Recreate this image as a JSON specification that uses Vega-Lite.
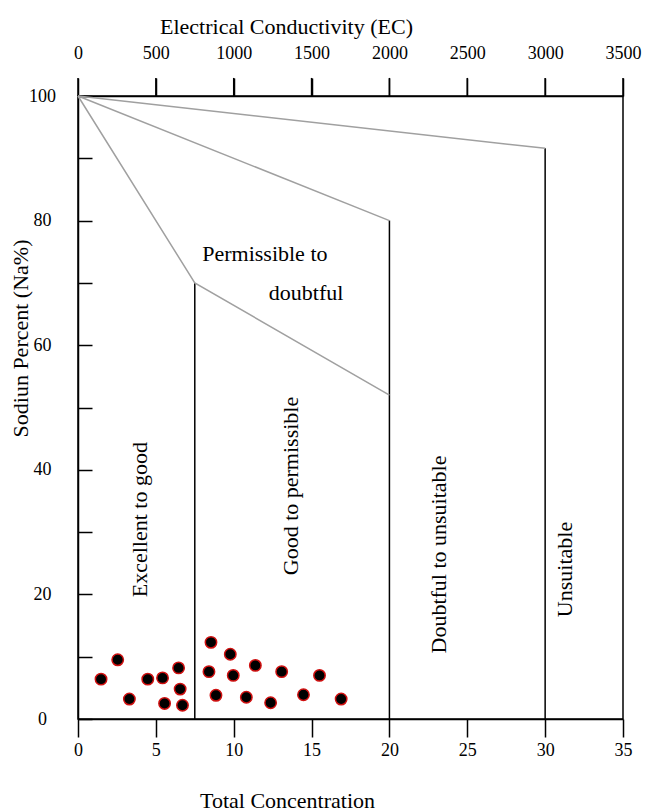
{
  "$schema": "https://vega.github.io/schema/vega-lite/v6.json",
  "width": 545,
  "height": 623,
  "autosize": "none",
  "padding": {"left": 78, "top": 96, "right": 33, "bottom": 93},
  "background": "white",
  "config": {
    "view": {"stroke": "black", "strokeWidth": 1.5},
    "font": "Liberation Serif",
    "axis": {
      "domainColor": "black", "domainWidth": 1.5, "tickColor": "black", "tickWidth": 1.5,
      "labelFont": "Liberation Serif", "titleFont": "Liberation Serif", "labelColor": "black", "titleColor": "black",
      "labelFontSize": 18, "titleFontSize": 22, "titleFontWeight": "normal", "grid": false, "labelFlush": false
    }
  },
  "datasets": {
    "bounds": [
      {"seg": "A", "tc": 0, "na": 100}, {"seg": "A", "tc": 30, "na": 91.6},
      {"seg": "B", "tc": 0, "na": 100}, {"seg": "B", "tc": 20, "na": 80},
      {"seg": "C", "tc": 0, "na": 100}, {"seg": "C", "tc": 7.5, "na": 70}, {"seg": "C", "tc": 20, "na": 52}
    ],
    "verticals": [
      {"tc": 7.5, "na0": 0, "na1": 70},
      {"tc": 20, "na0": 0, "na1": 80},
      {"tc": 30, "na0": 0, "na1": 91.6}
    ],
    "ecticks": [
      {"tc": 0, "na0": 100, "na1": 102.9}, {"tc": 5, "na0": 100, "na1": 102.9},
      {"tc": 10, "na0": 100, "na1": 102.9}, {"tc": 15, "na0": 100, "na1": 102.9},
      {"tc": 20, "na0": 100, "na1": 102.9}, {"tc": 25, "na0": 100, "na1": 102.9},
      {"tc": 30, "na0": 100, "na1": 102.9}, {"tc": 35, "na0": 100, "na1": 102.9}
    ],
    "samples": [
      {"tc": 1.48, "na": 6.4}, {"tc": 2.55, "na": 9.5}, {"tc": 3.3, "na": 3.2}, {"tc": 4.48, "na": 6.4},
      {"tc": 5.43, "na": 6.6}, {"tc": 5.56, "na": 2.5}, {"tc": 6.46, "na": 8.2}, {"tc": 6.56, "na": 4.8},
      {"tc": 6.71, "na": 2.2}, {"tc": 8.54, "na": 12.3}, {"tc": 8.41, "na": 7.6}, {"tc": 8.86, "na": 3.8},
      {"tc": 9.78, "na": 10.4}, {"tc": 9.97, "na": 7.0}, {"tc": 10.81, "na": 3.5}, {"tc": 11.39, "na": 8.6},
      {"tc": 12.37, "na": 2.6}, {"tc": 13.08, "na": 7.6}, {"tc": 14.48, "na": 3.9}, {"tc": 15.51, "na": 7.0},
      {"tc": 16.9, "na": 3.2}
    ],
    "zones": [
      {"tc": 4.0, "na": 32, "label": "Excellent to good"},
      {"tc": 13.7, "na": 37.4, "label": "Good to permissible"},
      {"tc": 23.2, "na": 26.4, "label": "Doubtful to unsuitable"},
      {"tc": 31.3, "na": 24, "label": "Unsuitable"}
    ],
    "zones2": [
      {"tc": 12.0, "na": 74.6, "label": "Permissible to"},
      {"tc": 14.65, "na": 68.4, "label": "doubtful"}
    ]
  },
  "layer": [
    {
      "data": {"name": "verticals"},
      "mark": {"type": "rule", "color": "black", "strokeWidth": 1.5},
      "encoding": {
        "x": {"field": "tc", "type": "quantitative", "scale": {"domain": [0, 35], "nice": false},
          "axis": {"orient": "top", "values": [0, 5, 10, 15, 20, 25, 30, 35], "labelExpr": "format(datum.value * 100, 'd')", "tickSize": 18, "labelPadding": 16,
            "title": "Electrical Conductivity (EC)", "titleX": 208, "titleY": -70, "titleAlign": "center", "titleBaseline": "middle", "titleAnchor": null}},
        "y": {"field": "na0", "type": "quantitative", "scale": {"domain": [0, 100], "nice": false},
          "axis": {"values": [0, 10, 20, 30, 40, 50, 60, 70, 80, 90, 100], "labelExpr": "datum.value % 20 == 0 ? datum.label : ''",
            "tickSize": -14, "labelPadding": 50, "labelAlign": "center", "title": "Sodiun Percent (Na%)", "titleX": -58, "titleY": 242, "titleAlign": "center", "titleBaseline": "middle", "titleAngle": -90}},
        "y2": {"field": "na1"}
      }
    },
    {
      "data": {"name": "ecticks"},
      "mark": {"type": "rule", "color": "black", "strokeWidth": 1.5, "clip": false},
      "encoding": {
        "x": {"field": "tc", "type": "quantitative", "axis": null},
        "y": {"field": "na0", "type": "quantitative"},
        "y2": {"field": "na1"}
      }
    },
    {
      "data": {"name": "bounds"},
      "mark": {"type": "line", "color": "#a0a0a0", "strokeWidth": 1.5},
      "encoding": {
        "x": {"field": "tc", "type": "quantitative",
          "axis": {"orient": "bottom", "values": [0, 5, 10, 15, 20, 25, 30, 35], "tickSize": 18, "labelPadding": 4,
            "title": "Total Concentration", "titleX": 209, "titleY": 81, "titleAlign": "center", "titleBaseline": "middle", "titleAnchor": null}},
        "y": {"field": "na", "type": "quantitative"},
        "detail": {"field": "seg"}
      }
    },
    {
      "data": {"name": "samples"},
      "mark": {"type": "point", "shape": "circle", "filled": false, "fill": "black", "fillOpacity": 1, "stroke": "#d01010", "strokeWidth": 1.5, "size": 130},
      "encoding": {
        "x": {"field": "tc", "type": "quantitative", "axis": null},
        "y": {"field": "na", "type": "quantitative"}
      }
    },
    {
      "data": {"name": "zones"},
      "mark": {"type": "text", "angle": 270, "fontSize": 22, "font": "Liberation Serif", "color": "black", "align": "center", "baseline": "middle"},
      "encoding": {
        "x": {"field": "tc", "type": "quantitative", "axis": null},
        "y": {"field": "na", "type": "quantitative"},
        "text": {"field": "label"}
      }
    },
    {
      "data": {"name": "zones2"},
      "mark": {"type": "text", "fontSize": 22, "font": "Liberation Serif", "color": "black", "align": "center", "baseline": "middle"},
      "encoding": {
        "x": {"field": "tc", "type": "quantitative", "axis": null},
        "y": {"field": "na", "type": "quantitative"},
        "text": {"field": "label"}
      }
    }
  ],
  "resolve": {"axis": {"x": "independent"}}
}
